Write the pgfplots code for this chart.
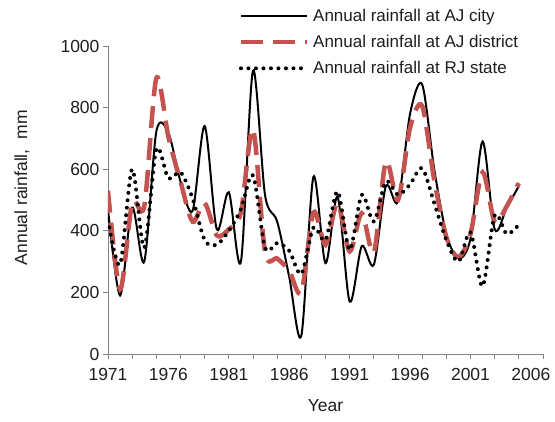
\documentclass[border=0pt]{standalone}
\usepackage{pgfplots}
\pgfplotsset{compat=1.18}
\usepackage{pgfplotstable}
\usepackage{fontspec}
\setmainfont{Liberation Sans}
\definecolor{ajred}{RGB}{196,82,79}
\definecolor{axgray}{RGB}{130,130,130}
\definecolor{txt}{RGB}{30,30,30}

\pgfplotstableread{
year city district state
1971 470 530 435
1972 190 210 290
1973 475 490 600
1974 300 480 345
1975 722 895 665
1976 718 705 570
1977 560 560 590
1978 465 430 505
1979 740 490 370
1980 405 385 355
1981 525 405 400
1982 300 460 470
1983 920 730 580
1984 515 330 345
1985 430 310 360
1986 250 270 335
1987 60 200 260
1988 575 460 410
1989 295 355 370
1990 510 490 528
1991 170 333 338
1992 350 457 517
1993 290 330 430
1994 545 625 560
1995 495 500 517
1996 780 735 551
1997 875 805 603
1998 600 565 490
1999 390 380 370
2000 310 315 300
2001 375 390 395
2002 690 590 220
2003 405 430 450
2004 475 480 390
2005 545 555 420
}\rain

\begin{document}
\begin{tikzpicture}
\begin{axis}[
  scale only axis,
  width=435pt, height=308pt,
  xmin=1971, xmax=2007, ymin=0, ymax=1000,
  axis lines=left,
  axis line style={-, draw=axgray, line width=0.8pt},
  every outer x axis line/.append style={-},
  every outer y axis line/.append style={-},
  xtick={1971,1976,...,2006},
  minor xtick={1971,1973,...,2007},
  ytick={0,200,...,1000},
  tick align=outside,
  major tick length=5pt, minor tick length=5pt,
  every tick/.style={draw=axgray, line width=0.8pt},
  major x tick style={draw=none},
  /pgf/number format/assume math mode=true,
  /pgf/number format/1000 sep={},
  tick label style={font=\fontsize{17.5}{20}\selectfont, text=txt},
  xticklabel style={yshift=-6pt},
  xlabel={Year},
  ylabel={Annual rainfall, \ mm},
  every axis x label/.style={at={(axis description cs:0.5,-0.166)}, anchor=center,
    font=\fontsize{17.5}{20}\selectfont, text=txt},
  every axis y label/.style={at={(axis description cs:-0.198,0.54)}, rotate=90, anchor=center,
    font=\fontsize{17.5}{20}\selectfont, text=txt},
  legend style={at={(axis description cs:0.30,1.128)}, anchor=north west,
    draw=none, fill=none, font=\fontsize{17}{20}\selectfont, text=txt,
    row sep=8.5pt, inner sep=0pt,
    nodes={inner xsep=4pt}},
  legend cell align=left,
  legend image code/.code={\draw[#1] (0pt,0pt) -- (66pt,0pt);},
]
\addplot[black, line width=2pt, smooth] table[x=year, y=city] {\rain};
\addlegendentry{Annual rainfall at AJ city}
\addplot[ajred, line width=4.5pt, dash pattern=on 22pt off 10pt, smooth] table[x=year, y=district] {\rain};
\addlegendentry{Annual rainfall at AJ district}
\addplot[black, line width=4pt, line cap=round, dash pattern=on 0pt off 7.5pt, smooth] table[x=year, y=state] {\rain};
\addlegendentry{Annual rainfall at RJ state}
\coordinate (bl) at ([xshift=-108pt,yshift=-67pt]rel axis cs:0,0);
\coordinate (tr) at ([xshift=12pt,yshift=46pt]rel axis cs:1,1);
\end{axis}
\pgfresetboundingbox
\path[use as bounding box] (bl) rectangle (tr);
\end{tikzpicture}
\end{document}
